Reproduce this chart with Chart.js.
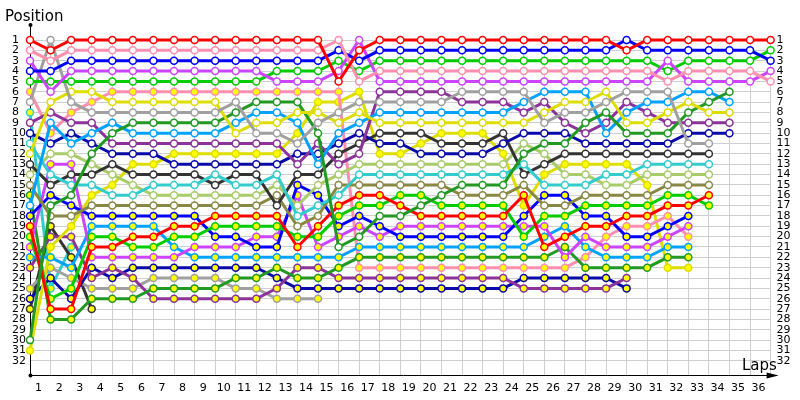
<!DOCTYPE html>
<html>
<head>
<meta charset="utf-8">
<script src="https://cdn.jsdelivr.net/npm/chart.js@4.4.0/dist/chart.umd.min.js"></script>
<style>
  html, body { margin: 0; padding: 0; background: #fff; }
  #wrap { width: 800px; height: 400px; }
</style>
</head>
<body>
<div id="wrap"><canvas id="lapChart"></canvas></div>
<script>
// lap numbers (0 = start grid) and position rows
const laps = [0,1,2,3,4,5,6,7,8,9,10,11,12,13,14,15,16,17,18,19,20,21,22,23,24,25,26,27,28,29,30,31,32,33,34,35,36];
const positions = [1,2,3,4,5,6,7,8,9,10,11,12,13,14,15,16,17,18,19,20,21,22,23,24,25,26,27,28,29,30,31,32];

// position of each car at every lap, open markers
const red      = [1,2,1,1,1,1,1,1,1,1,1,1,1,1,1,5,2,1,1,1,1,1,1,1,1,1,1,1,1,2,1,1,1,1,1,1,1];
const pink     = [2,3,2,2,2,2,2,2,2,2,2,2,2,2,2,1,5,4,4,4,4,4,4,4,4,4,4,4,4,4,4,5,4,4,4,4,5];
const blue     = [4,4,3,3,3,3,3,3,3,3,3,3,3,3,3,2,3,2,2,2,2,2,2,2,2,2,2,2,2,1,2,2,2,2,2,2,3];
const violet   = [3,6,4,4,4,4,4,4,4,4,4,4,5,5,5,4,1,5,5,5,5,5,5,5,5,5,5,5,5,5,5,3,5,5,5,5,4];
const green    = [5,5,5,5,5,5,5,5,5,5,5,5,4,4,4,3,4,3,3,3,3,3,3,3,3,3,3,3,3,3,3,4,3,3,3,3,2];
const grey     = [7,1,7,8,8,8,8,8,8,8,7,10,10,11,9,8,7,7,7,7,7,6,6,6,6,9,8,8,7,6,6,6,11,11];
const yellow   = [12,7,6,6,7,7,7,7,7,7,10,9,9,8,8,9,8,9,9,9,9,9,9,9,9,8,7,7,6,9,9,8,7,8,8];
const darkGreen= [30,17,16,12,10,9,9,9,9,9,8,7,7,7,10,21,20,18,18,17,16,15,15,15,12,11,11,9,8,10,10,10,8,7,6];
const skyBlue  = [17,9,11,10,9,10,10,10,10,10,9,8,8,9,13,10,9,8,8,8,8,8,8,8,7,6,6,6,10,8,7,7,6,6,7];
const purple   = [9,8,9,9,11,11,11,11,11,11,11,11,11,13,11,13,12,6,6,6,6,7,7,7,8,7,9,10,9,7,8,9,9,9,9];
const navy     = [10,11,10,11,12,12,12,13,13,13,13,13,13,12,12,11,10,11,11,12,12,12,12,11,10,10,10,11,11,11,11,11,10,10,10];
const cyan     = [11,14,15,15,16,16,15,15,15,14,15,15,14,18,17,16,14,14,14,14,14,14,14,14,13,15,15,15,14,14,13,13,13,13];
const black    = [13,15,14,14,13,14,14,14,14,15,14,14,17,14,14,12,11,10,10,10,11,11,11,10,14,13,12,12,12,12,12,12,12,12];
const lime     = [14,12,12,13,14,15,16,16,16,16,16,16,15,17,15,14,13,13,13,13,13,13,13,13,11,12,14,14,15,15,14,14,14,14];
const olive    = [15,18,18,17,17,17,17,17,17,17,17,17,16,19,18,15,15,15,15,15,15,16,16,16,15,17,17,16,16,16,16,15,15,15];

// yellow-filled markers
const redY      = [19,27,27,21,21,20,20,19,19,18,18,18,18,21,19,17,16,16,17,18,18,18,18,18,16,21,20,19,19,18,18,17,17,16];
const greenY    = [20,26,25,20,20,21,21,20,20,19,19,19,19,20,20,18,17,17,16,16,17,17,17,17,20,18,18,17,17,17,17,16,16,17];
const blueY     = [18,16,17,18,18,18,18,18,18,20,20,21,21,15,16,19,18,19,20,20,20,20,20,20,18,16,16,18,18,20,20,19,18];
const violetY   = [21,13,13,22,22,22,22,22,21,21,21,20,20,16,21,20,19,20,19,19,19,19,19,19,19,19,22,20,21,21,21,20,19];
const skyBlueY  = [22,22,23,19,19,19,19,21,22,22,22,22,22,22,22,22,21,21,21,21,21,21,21,21,21,20,19,21,22,22,22,21,21];
const darkGreenY= [16,28,28,26,26,26,25,25,25,25,24,24,23,24,24,23,22,22,22,22,22,22,22,22,22,22,21,23,23,23,23,22,22];
const pinkY     = [6,10,8,7,6,6,6,6,6,6,6,6,6,6,6,6,23,23,23,23,23,23,23,23,23,23,23,22,20,19,19,18,20];
const yellowY   = [31,21,19,16,15,13,13,12,12,12,12,12,12,10,7,7,6,12,12,11,10,10,10,12,17,14,13,13,13,13,15,23,23];
const purpleY   = [23,20,20,24,23,24,26,26,26,26,26,26,25,23,23,24,24,24,24,24,24,24,24,24,25,25,25,25,25,24];
const navyY     = [26,24,26,23,24,23,23,23,23,23,23,23,24,25,25,25,25,25,25,25,25,25,25,25,24,24,24,24,24,25];
const greyY     = [25,23,24,25,25,25,24,24,24,24,25,25,26,26,26];
const blackY    = [27,19,22,27];
const cyanY     = [8,25,21];

const cars = [
    [red, '#ff0000', false], [pink, '#ff8fae', false], [blue, '#0000ff', false],
    [violet, '#cc44ff', false], [green, '#00cc00', false], [grey, '#a0a0a0', false],
    [yellow, '#dddd00', false], [darkGreen, '#229922', false], [skyBlue, '#00a2ff', false],
    [purple, '#8b3399', false], [navy, '#0a0aa8', false], [cyan, '#33cccc', false],
    [black, '#333333', false], [lime, '#a8cc6a', false], [olive, '#888844', false],
    [redY, '#ff0000', true], [greenY, '#00cc00', true], [blueY, '#0000ff', true],
    [violetY, '#cc44ff', true], [skyBlueY, '#00a2ff', true], [darkGreenY, '#229922', true],
    [pinkY, '#ff8fae', true], [yellowY, '#dddd00', true], [purpleY, '#8b3399', true],
    [navyY, '#0a0aa8', true], [greyY, '#a0a0a0', true], [blackY, '#333333', true],
    [cyanY, '#33cccc', true]
];

const tickFont = { family: 'DejaVu Sans', size: 11 };

const axesPlugin = {
    id: 'axes',
    beforeDatasetsDraw(chart) {
        const { ctx, chartArea: a } = chart;
        const x0 = Math.round(a.left) + 0.5, y0 = Math.round(a.bottom) + 0.5;
        ctx.save();
        ctx.strokeStyle = '#000';
        ctx.fillStyle = '#000';
        ctx.lineWidth = 1;
        ctx.beginPath();
        ctx.moveTo(x0, 25);
        ctx.lineTo(x0, y0);
        ctx.lineTo(a.right + 6, y0);
        ctx.stroke();
        ctx.beginPath();
        ctx.moveTo(a.right + 8, y0);
        ctx.lineTo(a.right - 4, y0 - 3);
        ctx.lineTo(a.right - 4, y0 + 3);
        ctx.closePath();
        ctx.fill();
        ctx.beginPath(); ctx.arc(x0, 25, 2, 0, Math.PI * 2); ctx.fill();
        ctx.beginPath(); ctx.arc(x0, y0, 2, 0, Math.PI * 2); ctx.fill();
        ctx.font = '15px "DejaVu Sans"';
        ctx.textBaseline = 'alphabetic';
        ctx.textAlign = 'left';
        ctx.fillText('Position', 5, 21);
        ctx.fillText('Laps', 742, 370);
        ctx.restore();
    }
};

const posAxis = (side) => ({
    position: side,
    reverse: true,
    min: 1,
    max: 33.37,
    afterBuildTicks: s => { s.ticks = positions.map(v => ({ value: v })); },
    afterFit: s => { s.width = side === 'left' ? 18 : 29.4; },
    grid: { display: side === 'left', color: '#cfcfcf', drawTicks: false },
    border: { display: false },
    ticks: {
        font: tickFont, color: '#000', padding: side === 'left' ? 0 : 6,
        crossAlign: side === 'left' ? 'far' : 'near', autoSkip: false
    }
});

new Chart(document.getElementById('lapChart'), {
    type: 'line',
    data: {
        datasets: cars.map(([arr, col, filled]) => ({
            data: arr.map((p, i) => ({ x: laps[i], y: p })),
            borderColor: col,
            borderWidth: 3,
            pointRadius: 3.5,
            pointBorderWidth: 1.5,
            pointBorderColor: col,
            pointBackgroundColor: filled ? '#ffff00' : '#ffffff',
            tension: 0,
            clip: false
        }))
    },
    options: {
        responsive: true,
        maintainAspectRatio: false,
        animation: false,
        events: [],
        layout: { padding: { top: 40, left: 12, right: 0, bottom: 0 } },
        plugins: { legend: { display: false }, tooltip: { enabled: false } },
        scales: {
            x: {
                type: 'linear',
                min: 0,
                max: 36,
                afterBuildTicks: s => { s.ticks = laps.map(v => ({ value: v })); },
                afterFit: s => { s.height = 25; },
                grid: { color: '#cfcfcf', drawTicks: false },
                border: { display: false },
                ticks: {
                    font: tickFont, color: '#000', padding: 7, labelOffset: -12,
                    maxRotation: 0, autoSkip: false,
                    callback: v => v === 0 ? '' : v
                }
            },
            y: posAxis('left'),
            y2: posAxis('right')
        }
    },
    plugins: [axesPlugin]
});
</script>
</body>
</html>
